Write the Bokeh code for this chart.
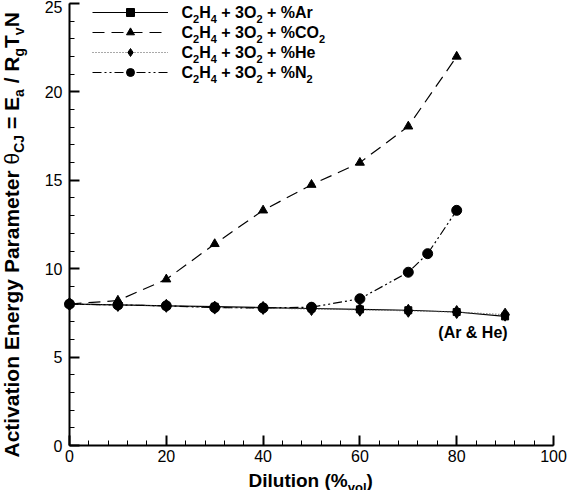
import math
from bokeh.plotting import figure
from bokeh.models import Range1d, FixedTicker, Label, Legend, LegendItem, LinearAxis
from bokeh.embed import file_html
from bokeh.resources import INLINE

# ---------------- data ----------------
dilution = [0, 10, 20, 30, 40, 50, 60, 70, 80, 90]
theta_ar = [8.0, 7.95, 7.9, 7.85, 7.8, 7.75, 7.7, 7.65, 7.55, 7.3]
theta_he = [8.0, 7.95, 7.9, 7.8, 7.78, 7.72, 7.68, 7.62, 7.55, 7.4]
dilution_co2 = [0, 10, 20, 30, 40, 50, 60, 70, 80]
theta_co2 = [8.0, 8.2, 9.4, 11.4, 13.3, 14.75, 16.0, 18.05, 22.0]
dilution_n2 = [0, 10, 20, 30, 40, 50, 60, 70, 74, 80]
theta_n2 = [8.0, 7.95, 7.9, 7.8, 7.78, 7.82, 8.3, 9.8, 10.85, 13.3]

x_major = [0, 20, 40, 60, 80, 100]
x_minor = list(range(0, 101, 4))
y_major = [0, 5, 10, 15, 20, 25]
y_minor = list(range(0, 26, 1))

legend_tails = [[(" + %Ar", 0)], [(" + %CO", 0), ("2", 1)], [(" + %He", 0)], [(" + %N", 0), ("2", 1)]]
legend_head = [("C", 0), ("2", 1), ("H", 0), ("4", 1), (" + 3O", 0), ("2", 1)]
note_text = "(Ar & He)"

# ---------------- layout ----------------
W, H = 576, 490
PX0, PX1 = 69, 553     # canvas x of dilution 0 and 100
PY0, PY1 = 445, 3      # canvas y of theta 0 and 25
sx = (PX1 - PX0) / 100.0
sy = (PY0 - PY1) / 25.0
x_rng = Range1d(-PX0 / sx, 100 + (W - PX1) / sx)
y_rng = Range1d(-(H - PY0) / sy, 25 + PY1 / sy)
BASE_K = 0.36  # empirical correction of Bokeh's alphabetic baseline

p = figure(width=W, height=H, x_range=x_rng, y_range=y_rng,
           output_backend="svg", toolbar_location=None,
           min_border=0, x_axis_location=None, y_axis_location=None)
p.grid.visible = False
p.outline_line_color = None
p.background_fill_color = "white"
p.border_fill_color = "white"

xax = LinearAxis(fixed_location=0, bounds=(0, 100),
                 ticker=FixedTicker(ticks=x_major, minor_ticks=x_minor))
yax = LinearAxis(fixed_location=0, bounds=(0, 25),
                 ticker=FixedTicker(ticks=y_major, minor_ticks=y_minor))
for ax in (xax, yax):
    ax.axis_line_width = 2
    ax.axis_line_color = "black"
    ax.major_tick_line_width = 2
    ax.major_tick_line_color = "black"
    ax.minor_tick_line_width = 1
    ax.minor_tick_line_color = "black"
    ax.major_tick_in = 10
    ax.major_tick_out = 0
    ax.minor_tick_in = 5
    ax.minor_tick_out = 0
    ax.major_label_text_font = "Liberation Sans"
    ax.major_label_text_font_size = "16px"
    ax.major_label_text_color = "black"
xax.major_label_standoff = 4
yax.major_label_standoff = 7
p.add_layout(xax, "below")
p.add_layout(yax, "left")

# ---------------- series ----------------
l_ar = p.line(dilution, theta_ar, line_color="black", line_width=1.2)
s_ar = p.scatter(dilution, theta_ar, marker="square", size=7, color="black")
l_co2 = p.line(dilution_co2, theta_co2, line_color="black", line_width=1.2, line_dash="12 7")
s_co2 = p.scatter(dilution_co2, theta_co2, marker="triangle", size=9, color="black")
l_he = p.line(dilution, theta_he, line_color="#555555", line_width=1.2, line_dash="1 2")
s_he = p.scatter(dilution, theta_he, marker="diamond", size=13, color="black")
l_n2 = p.line(dilution_n2, theta_n2, line_color="black", line_width=1.2, line_dash="9 3 2 3 2 3")
s_n2 = p.scatter(dilution_n2, theta_n2, marker="circle", size=10, color="black")

# ---------------- legend (keys) ----------------
ROW0, PITCH = 12, 20
GH = 20
SP = PITCH - GH
legend = Legend(items=[LegendItem(label=" ", renderers=[l_ar, s_ar]),
                       LegendItem(label=" ", renderers=[l_co2, s_co2]),
                       LegendItem(label=" ", renderers=[l_he, s_he]),
                       LegendItem(label=" ", renderers=[l_n2, s_n2])],
                location=(92, H - (ROW0 - GH / 2 + 4 * GH + 3 * SP)),
                glyph_width=76, glyph_height=GH, label_height=GH, label_width=1,
                spacing=SP, padding=0, margin=0, label_standoff=0,
                label_text_font_size="1px", border_line_color=None,
                background_fill_alpha=0)
p.add_layout(legend)

# ---------------- rich text helper ----------------
WID = {' ': 278, '%': 889, '&': 722, '(': 333, ')': 333, '+': 584, '/': 278, '=': 584,
       'A': 722, 'C': 722, 'D': 722, 'E': 667, 'H': 722, 'J': 556, 'N': 722, 'O': 778,
       'P': 667, 'R': 722, 'T': 611, 'a': 556, 'c': 556, 'e': 556, 'g': 611, 'i': 278,
       'l': 278, 'm': 889, 'n': 611, 'o': 611, 'r': 389, 't': 333, 'u': 611, 'v': 556,
       'y': 556, 'θ': 560}
for d in "0123456789":
    WID[d] = 556


def tw(s, fs):
    return sum(WID.get(ch, 600) for ch in s) / 1000.0 * fs


def rich(pieces, x0, y0, size, subsize, shift, rotated=False, styles=None):
    pos = 0.0
    for i, (txt, sub) in enumerate(pieces):
        fs = subsize if sub else size
        lead = len(txt) - len(txt.lstrip(" "))
        pos += tw(" " * lead, fs)
        core = txt.strip(" ")
        off = (shift if sub else 0) - BASE_K * fs
        if rotated:
            cx, cy = x0 + off, y0 - pos
        else:
            cx, cy = x0 + pos, y0 + off
        style = styles[i] if styles else "bold"
        p.add_layout(Label(x=cx, y=H - cy, x_units="screen", y_units="screen",
                           text=core, text_font="Liberation Sans", text_font_style=style,
                           text_font_size=f"{fs}px", text_color="black",
                           text_align="left", text_baseline="alphabetic",
                           angle=(math.pi / 2 if rotated else 0)))
        pos += tw(core, fs)
        trail = len(txt) - len(txt.rstrip(" "))
        pos += tw(" " * trail, fs)


# legend texts
for r, tail in enumerate(legend_tails):
    rich(legend_head + tail, 181, ROW0 + r * PITCH + 6, 16, 11, 4)

# x axis label
rich([("Dilution (%", 0), ("vol", 1), (")", 0)], 248, 487, 19, 13, 5)

# y axis label
ypieces = [("Activation Energy Parameter ", 0), ("θ", 0), ("CJ", 1), (" = E", 0), ("a", 1),
           (" / R", 0), ("g", 1), ("T", 0), ("v", 1), ("N", 0)]
ystyles = ["bold", "normal", "bold", "bold", "bold", "bold", "bold", "bold", "bold", "bold"]
rich(ypieces, 19, 457, 21, 14, 5, rotated=True, styles=ystyles)

# annotation
p.add_layout(Label(x=76.2, y=6.04, y_offset=BASE_K * 16, text=note_text,
                   text_font="Liberation Sans", text_font_style="bold",
                   text_font_size="16px", text_color="black",
                   text_align="left", text_baseline="alphabetic"))

open("out.html", "w").write(file_html(p, INLINE))
